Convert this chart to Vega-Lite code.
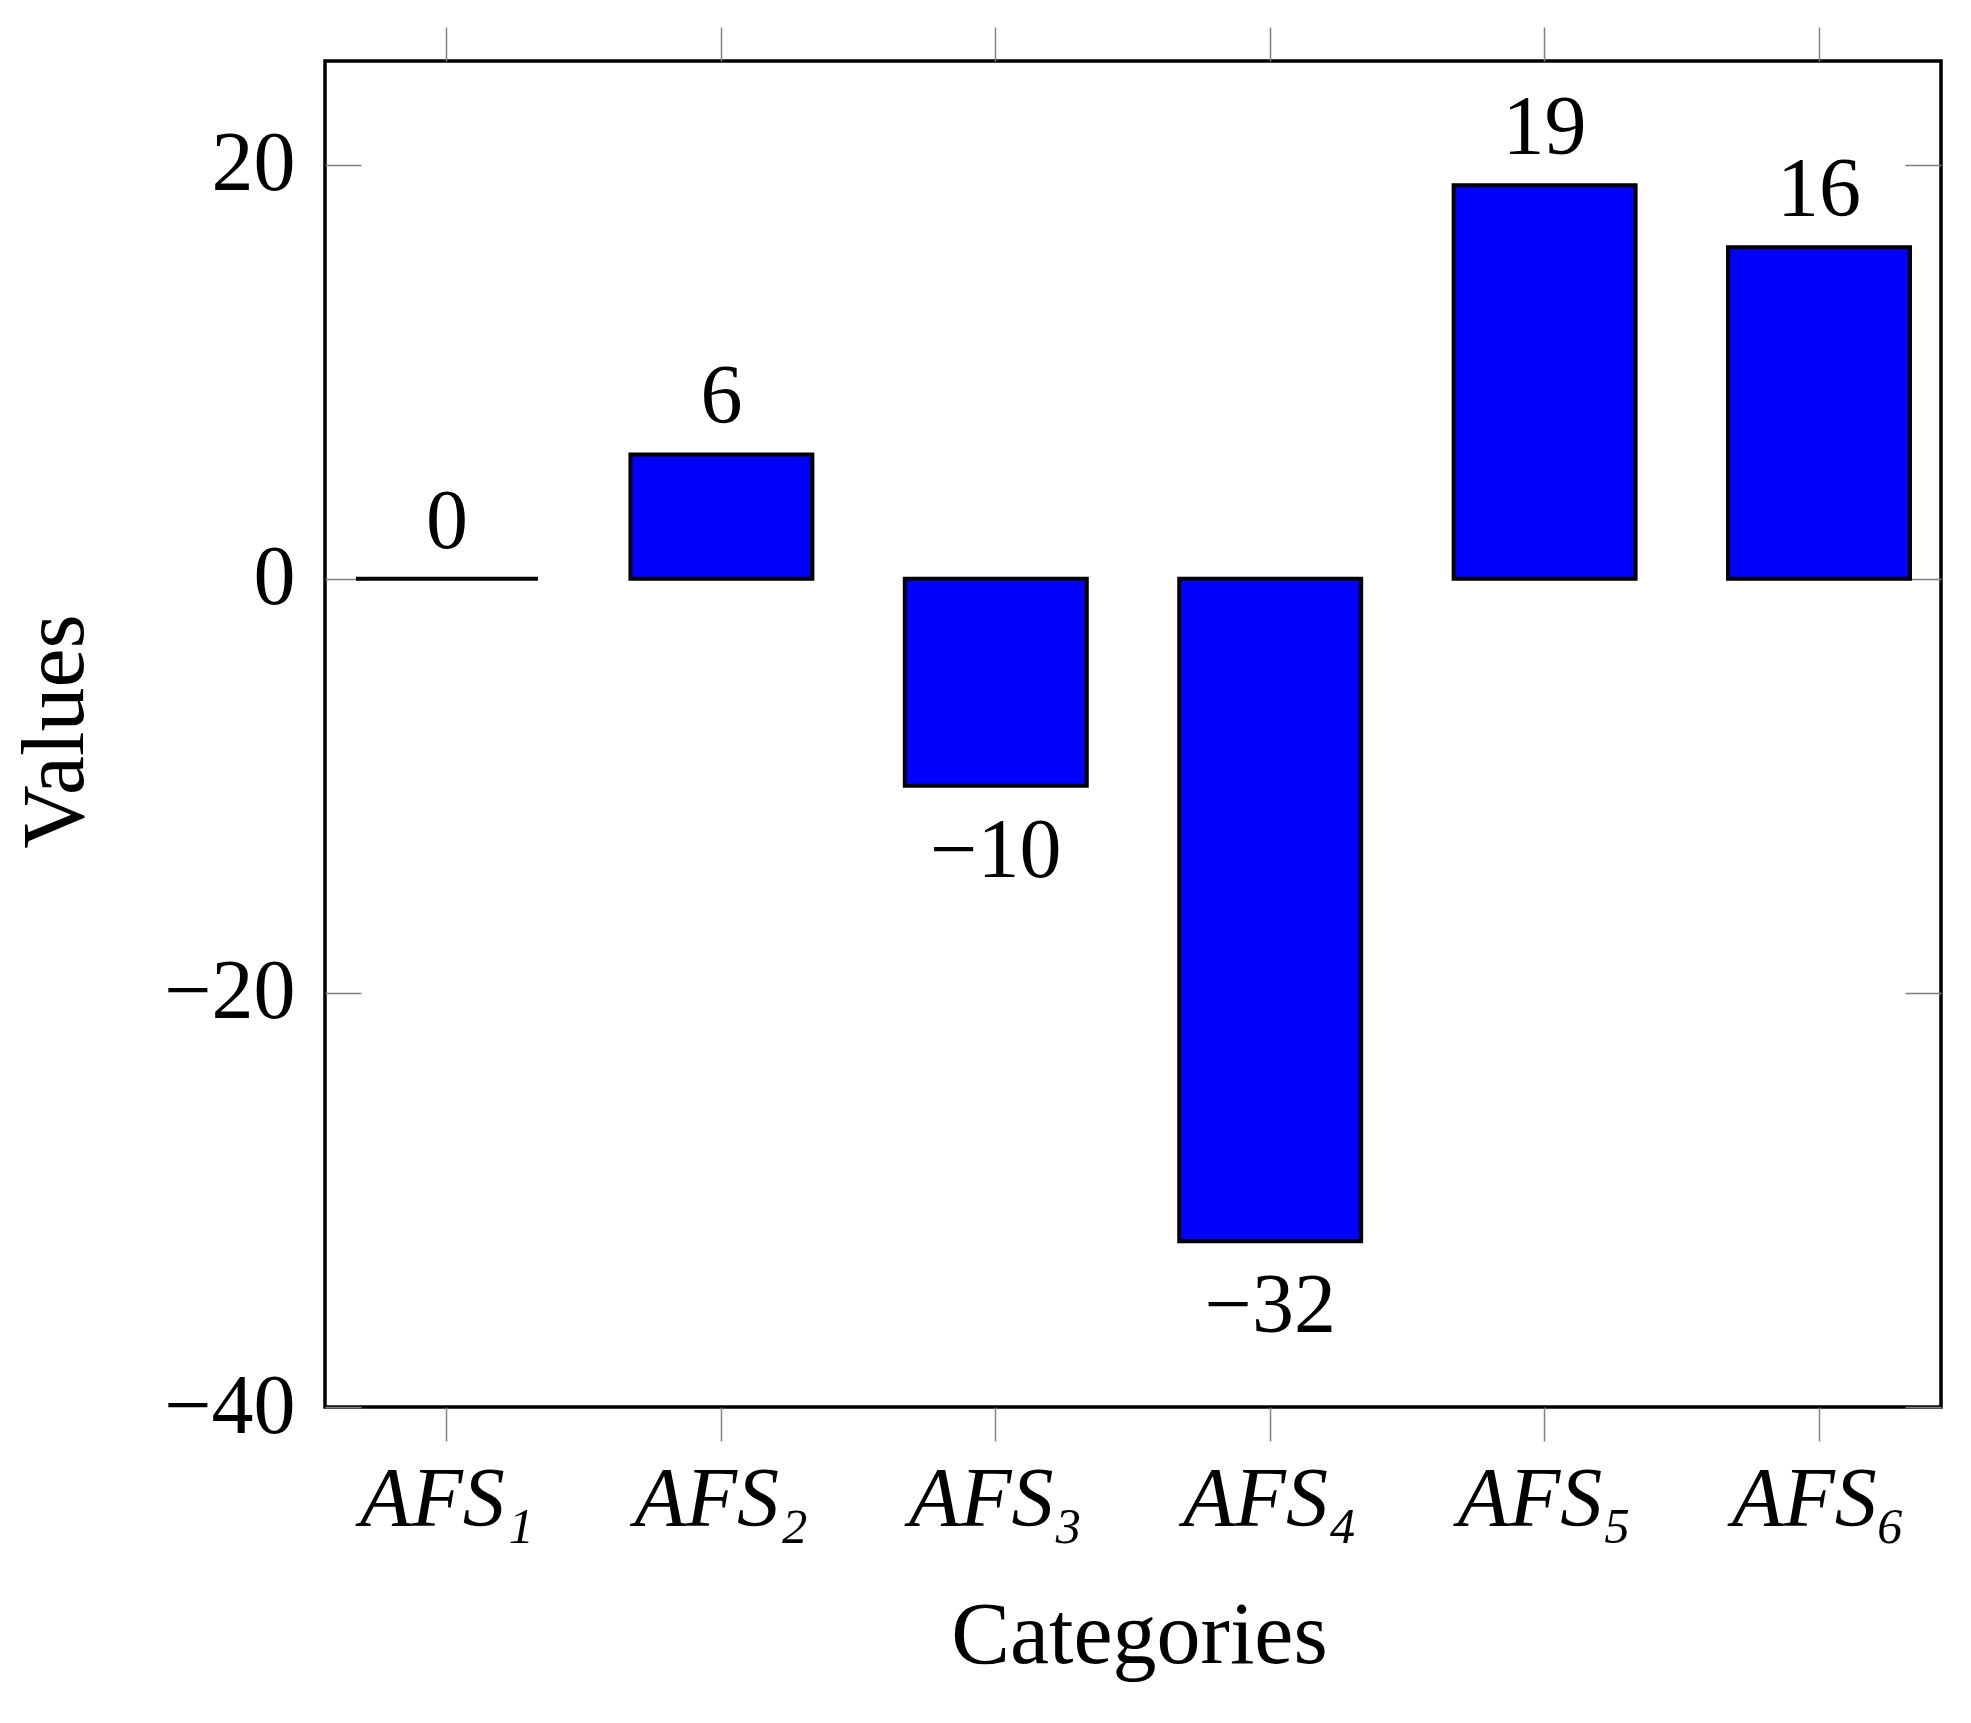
{
  "$schema": "https://vega.github.io/schema/vega-lite/v6.json",
  "width": 1616,
  "height": 1346,
  "autosize": "none",
  "padding": {"left": 325, "top": 61, "right": 30, "bottom": 316},
  "config": {
    "font": "Liberation Serif",
    "view": {"stroke": "black", "strokeWidth": 3.5},
    "axis": {
      "domain": false,
      "grid": false,
      "tickColor": "#808080",
      "tickWidth": 1.5,
      "labelFont": "Liberation Serif",
      "labelFontSize": 84,
      "labelColor": "black",
      "titleFont": "Liberation Serif",
      "titleFontSize": 88,
      "titleFontWeight": "normal",
      "titleColor": "black"
    }
  },
  "data": {
    "values": [
      {"cat": "AFS₁", "value": 0},
      {"cat": "AFS₂", "value": 6},
      {"cat": "AFS₃", "value": -10},
      {"cat": "AFS₄", "value": -32},
      {"cat": "AFS₅", "value": 19},
      {"cat": "AFS₆", "value": 16}
    ]
  },
  "layer": [
    {
      "mark": {"type": "bar", "fill": "#0000ff", "stroke": "black", "strokeWidth": 4},
      "encoding": {
        "x": {
          "field": "cat",
          "type": "nominal",
          "sort": null,
          "scale": {"paddingInner": 0.337, "paddingOuter": 0.113},
          "axis": {
            "orient": "bottom",
            "labelAngle": 0,
            "labelFontStyle": "italic",
            "tickSize": 34,
            "labelPadding": 18,
            "title": "Categories",
            "titleX": 814,
            "titleY": 255,
            "titleBaseline": "alphabetic"
          }
        },
        "y": {
          "field": "value",
          "type": "quantitative",
          "scale": {"domain": [-40, 25], "nice": false},
          "axis": {
            "orient": "left",
            "values": [-40, -20, 0, 20],
            "tickSize": -36,
            "labelPadding": 66,
            "title": "Values",
            "titleX": -243,
            "titleY": 670,
            "titleAlign": "center",
            "titleBaseline": "alphabetic"
          }
        }
      }
    },
    {
      "transform": [{"filter": "datum.value >= 0"}],
      "mark": {"type": "text", "baseline": "alphabetic", "dy": -31, "fontSize": 84, "font": "Liberation Serif", "color": "black"},
      "encoding": {
        "x": {
          "field": "cat",
          "type": "nominal",
          "sort": null,
          "axis": {"orient": "top", "labels": false, "tickSize": 34, "title": null}
        },
        "y": {
          "field": "value",
          "type": "quantitative",
          "axis": {"orient": "right", "labels": false, "values": [-40, -20, 0, 20], "tickSize": -36, "title": null}
        },
        "text": {"field": "value", "type": "quantitative", "format": "d"}
      }
    },
    {
      "transform": [{"filter": "datum.value < 0"}],
      "mark": {"type": "text", "baseline": "alphabetic", "dy": 91, "fontSize": 84, "font": "Liberation Serif", "color": "black"},
      "encoding": {
        "x": {"field": "cat", "type": "nominal", "sort": null, "axis": null},
        "y": {"field": "value", "type": "quantitative", "axis": null},
        "text": {"field": "value", "type": "quantitative", "format": "d"}
      }
    }
  ],
  "resolve": {"axis": {"x": "independent", "y": "independent"}}
}
